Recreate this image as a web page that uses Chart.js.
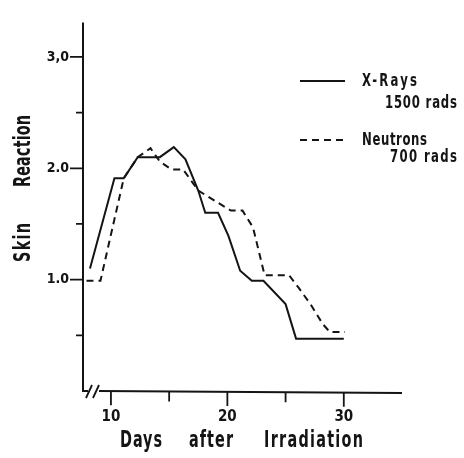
<!DOCTYPE html>
<html>
<head>
<meta charset="utf-8">
<script src="https://cdn.jsdelivr.net/npm/chart.js@4/dist/chart.umd.min.js"></script>
<style>
  body { margin: 0; background: #fff; }
  canvas { display: block; }
</style>
</head>
<body>
<canvas id="myChart" width="464" height="458"></canvas>
<script>
// days after irradiation / skin reaction
const xrayDays = [8.2, 10.3, 11.1, 12.3, 14.2, 15.4, 16.4, 17.5, 18.1, 19.2, 20.1, 21.1, 22.1, 23.1, 25.0, 25.9, 30.0];
const xrayReaction = [1.10, 1.91, 1.91, 2.10, 2.10, 2.19, 2.08, 1.80, 1.60, 1.60, 1.39, 1.08, 0.99, 0.99, 0.78, 0.47, 0.47];
const neutronDays = [7.9, 9.1, 11.1, 12.3, 13.4, 14.2, 15.2, 16.2, 17.5, 20.3, 21.3, 22.2, 23.2, 25.3, 26.1, 27.2, 28.2, 28.8, 30.1];
const neutronReaction = [0.99, 0.99, 1.91, 2.10, 2.18, 2.06, 1.99, 1.99, 1.80, 1.62, 1.62, 1.47, 1.04, 1.04, 0.93, 0.77, 0.60, 0.53, 0.53];

const xTicks = [10, 15, 20, 25, 30];
const xLabels = { 10: '10', 20: '20', 30: '30' };
const yTicks = [0.5, 1, 1.5, 2, 2.5, 3];
const yLabels = { 1: '1.0', 2: '2.0', 3: '3,0' };

const ink = '#141414';
const fontFamily = '"DejaVu Sans Condensed", "Liberation Sans Narrow", "DejaVu Sans", sans-serif';

function toPoints(xs, ys) {
  return xs.map((x, i) => ({ x: x, y: ys[i] }));
}

// typewriter-ish lettering: tall narrow letters spread out to a given width
function fitText(ctx, text, x0, x1, y, sy) {
  ctx.save();
  ctx.translate(x0, y);
  ctx.scale(1, sy);
  ctx.letterSpacing = '0px';
  const w = ctx.measureText(text).width;
  const ls = (x1 - x0 - w) / Math.max(text.length - 1, 1);
  ctx.letterSpacing = ls + 'px';
  ctx.textAlign = 'left';
  ctx.textBaseline = 'middle';
  ctx.fillText(text, 0, 0);
  ctx.restore();
}

const axesPlugin = {
  id: 'oldAxes',
  afterDraw(chart) {
    const ctx = chart.ctx;
    const { left, right, top, bottom } = chart.chartArea;
    const xs = chart.scales.x;
    const ys = chart.scales.y;
    ctx.save();
    ctx.strokeStyle = ink;
    ctx.fillStyle = ink;
    ctx.lineWidth = 2;
    ctx.lineCap = 'butt';

    // axis lines with the break on the x axis
    ctx.beginPath();
    ctx.moveTo(left, top);
    ctx.lineTo(left, bottom);
    ctx.lineTo(left + 5, bottom);
    ctx.moveTo(left + 16, bottom);
    ctx.lineTo(right, bottom + 2);
    ctx.stroke();
    ctx.lineWidth = 1.8;
    ctx.beginPath();
    ctx.moveTo(left + 3, bottom + 7);
    ctx.lineTo(left + 9, bottom - 6);
    ctx.moveTo(left + 10, bottom + 7);
    ctx.lineTo(left + 16, bottom - 6);
    ctx.stroke();

    // tick marks
    ctx.beginPath();
    xTicks.forEach(v => {
      const px = xs.getPixelForValue(v);
      const len = xLabels[v] ? 14 : 10;
      const y0 = bottom + (px - left) / (right - left) * 2;
      ctx.moveTo(px, y0);
      ctx.lineTo(px, y0 + len);
    });
    yTicks.forEach(v => {
      const py = ys.getPixelForValue(v);
      const len = yLabels[v] ? 13 : 7;
      ctx.moveTo(left, py);
      ctx.lineTo(left - len, py);
    });
    ctx.stroke();

    // axis titles
    ctx.font = 'bold 16px ' + fontFamily;
    fitText(ctx, 'Days', 120, 162, 441, 1.4);
    fitText(ctx, 'after', 189, 233, 441, 1.4);
    fitText(ctx, 'Irradiation', 264, 363, 441, 1.4);
    ctx.save();
    ctx.translate(24, 0);
    ctx.rotate(-Math.PI / 2);
    fitText(ctx, 'Skin', -262, -223, 0, 1.4);
    fitText(ctx, 'Reaction', -187, -115, 0, 1.4);
    ctx.restore();

    // legend
    ctx.lineWidth = 2;
    ctx.beginPath();
    ctx.moveTo(300, 81);
    ctx.lineTo(345, 81);
    ctx.stroke();
    ctx.setLineDash([7, 5]);
    ctx.beginPath();
    ctx.moveTo(300, 140);
    ctx.lineTo(345, 140);
    ctx.stroke();
    ctx.setLineDash([]);
    ctx.font = 'bold 13px ' + fontFamily;
    fitText(ctx, 'X-Rays', 362, 417, 82, 1.3);
    fitText(ctx, '1500 rads', 385, 457, 104, 1.3);
    fitText(ctx, 'Neutrons', 362, 427, 141, 1.3);
    fitText(ctx, '700 rads', 390, 457, 158, 1.3);
    ctx.restore();
  },
};

const config = {
  type: 'scatter',
  data: {
    datasets: [
      {
        label: 'X-Rays 1500 rads',
        data: toPoints(xrayDays, xrayReaction),
        showLine: true,
        borderColor: ink,
        borderWidth: 2,
        pointRadius: 0,
        tension: 0,
      },
      {
        label: 'Neutrons 700 rads',
        data: toPoints(neutronDays, neutronReaction),
        showLine: true,
        borderColor: ink,
        borderWidth: 2,
        borderDash: [7, 5],
        pointRadius: 0,
        tension: 0,
      },
    ],
  },
  options: {
    responsive: false,
    animation: false,
    devicePixelRatio: 1,
    layout: { padding: { left: 0, right: 62, top: 7, bottom: 0 } },
    plugins: {
      legend: { display: false },
      tooltip: { enabled: false },
    },
    scales: {
      x: {
        type: 'linear',
        min: 7.6,
        max: 35,
        grid: { display: false, drawTicks: false },
        border: { display: false },
        afterBuildTicks: s => { s.ticks = xTicks.map(v => ({ value: v })); },
        afterFit: s => { s.height = 67; },
        ticks: {
          autoSkip: false,
          maxRotation: 0,
          padding: 17,
          color: ink,
          font: { family: fontFamily, size: 15, weight: 'bold' },
          callback: v => xLabels[v] || '',
        },
      },
      y: {
        type: 'linear',
        min: 0,
        max: 3.31,
        grid: { display: false, drawTicks: false },
        border: { display: false },
        afterBuildTicks: s => { s.ticks = yTicks.map(v => ({ value: v })); },
        afterFit: s => { s.width = 83; },
        ticks: {
          autoSkip: false,
          padding: 14,
          color: ink,
          font: { family: fontFamily, size: 14, weight: 'bold' },
          callback: v => yLabels[v] || '',
        },
      },
    },
  },
  plugins: [axesPlugin],
};

const myChart = new Chart(document.getElementById('myChart'), config);
</script>
</body>
</html>
